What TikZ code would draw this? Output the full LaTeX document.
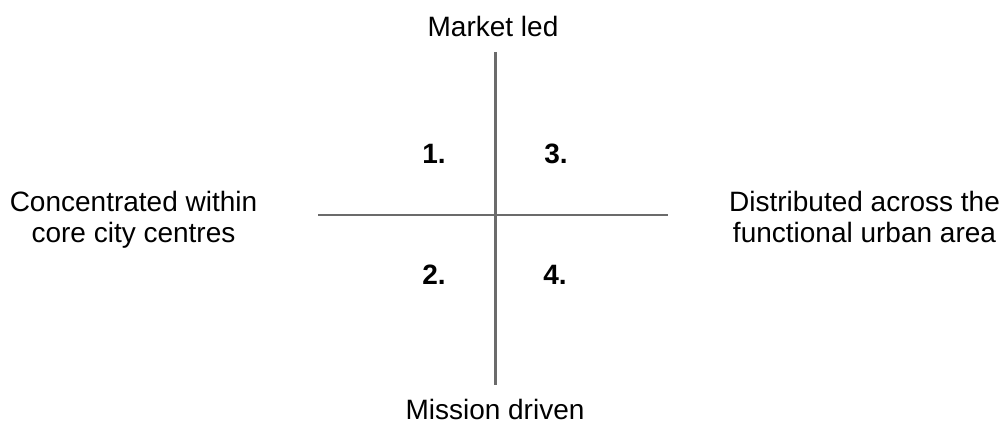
\documentclass[tikz,border=0pt]{standalone}
\usepackage{fontspec}
\setmainfont{Liberation Sans}
\begin{document}
\begin{tikzpicture}[x=1pt,y=-1pt,
  lbl/.style={font=\fontsize{28}{31}\selectfont, inner sep=0pt, anchor=base, align=center},
  num/.style={font=\fontsize{28}{31}\selectfont\bfseries, inner sep=0pt, anchor=base},
  axis/.style={draw=black!58, line width=2.4pt}]
\useasboundingbox (0,0) rectangle (1003,427);
\coordinate (top) at (495.5,52);
\coordinate (bot) at (495.5,385);
\coordinate (lft) at (318,215);
\coordinate (rgt) at (668,215);
\draw[axis] (top) -- (bot);
\draw[axis] (lft) -- (rgt);
\node[lbl] (market) at (493,37) {Market led};
\node[lbl] (mission) at (495,419) {Mission driven};
\node[lbl] (conc) at (133.5,243) {Concentrated within\\core city centres};
\node[lbl] (dist) at (864.5,243) {Distributed across the\\functional urban area};
\node[num] (q1) at (434,164) {1.};
\node[num] (q3) at (556,164) {3.};
\node[num] (q2) at (434,285) {2.};
\node[num] (q4) at (555,285) {4.};
\end{tikzpicture}
\end{document}
